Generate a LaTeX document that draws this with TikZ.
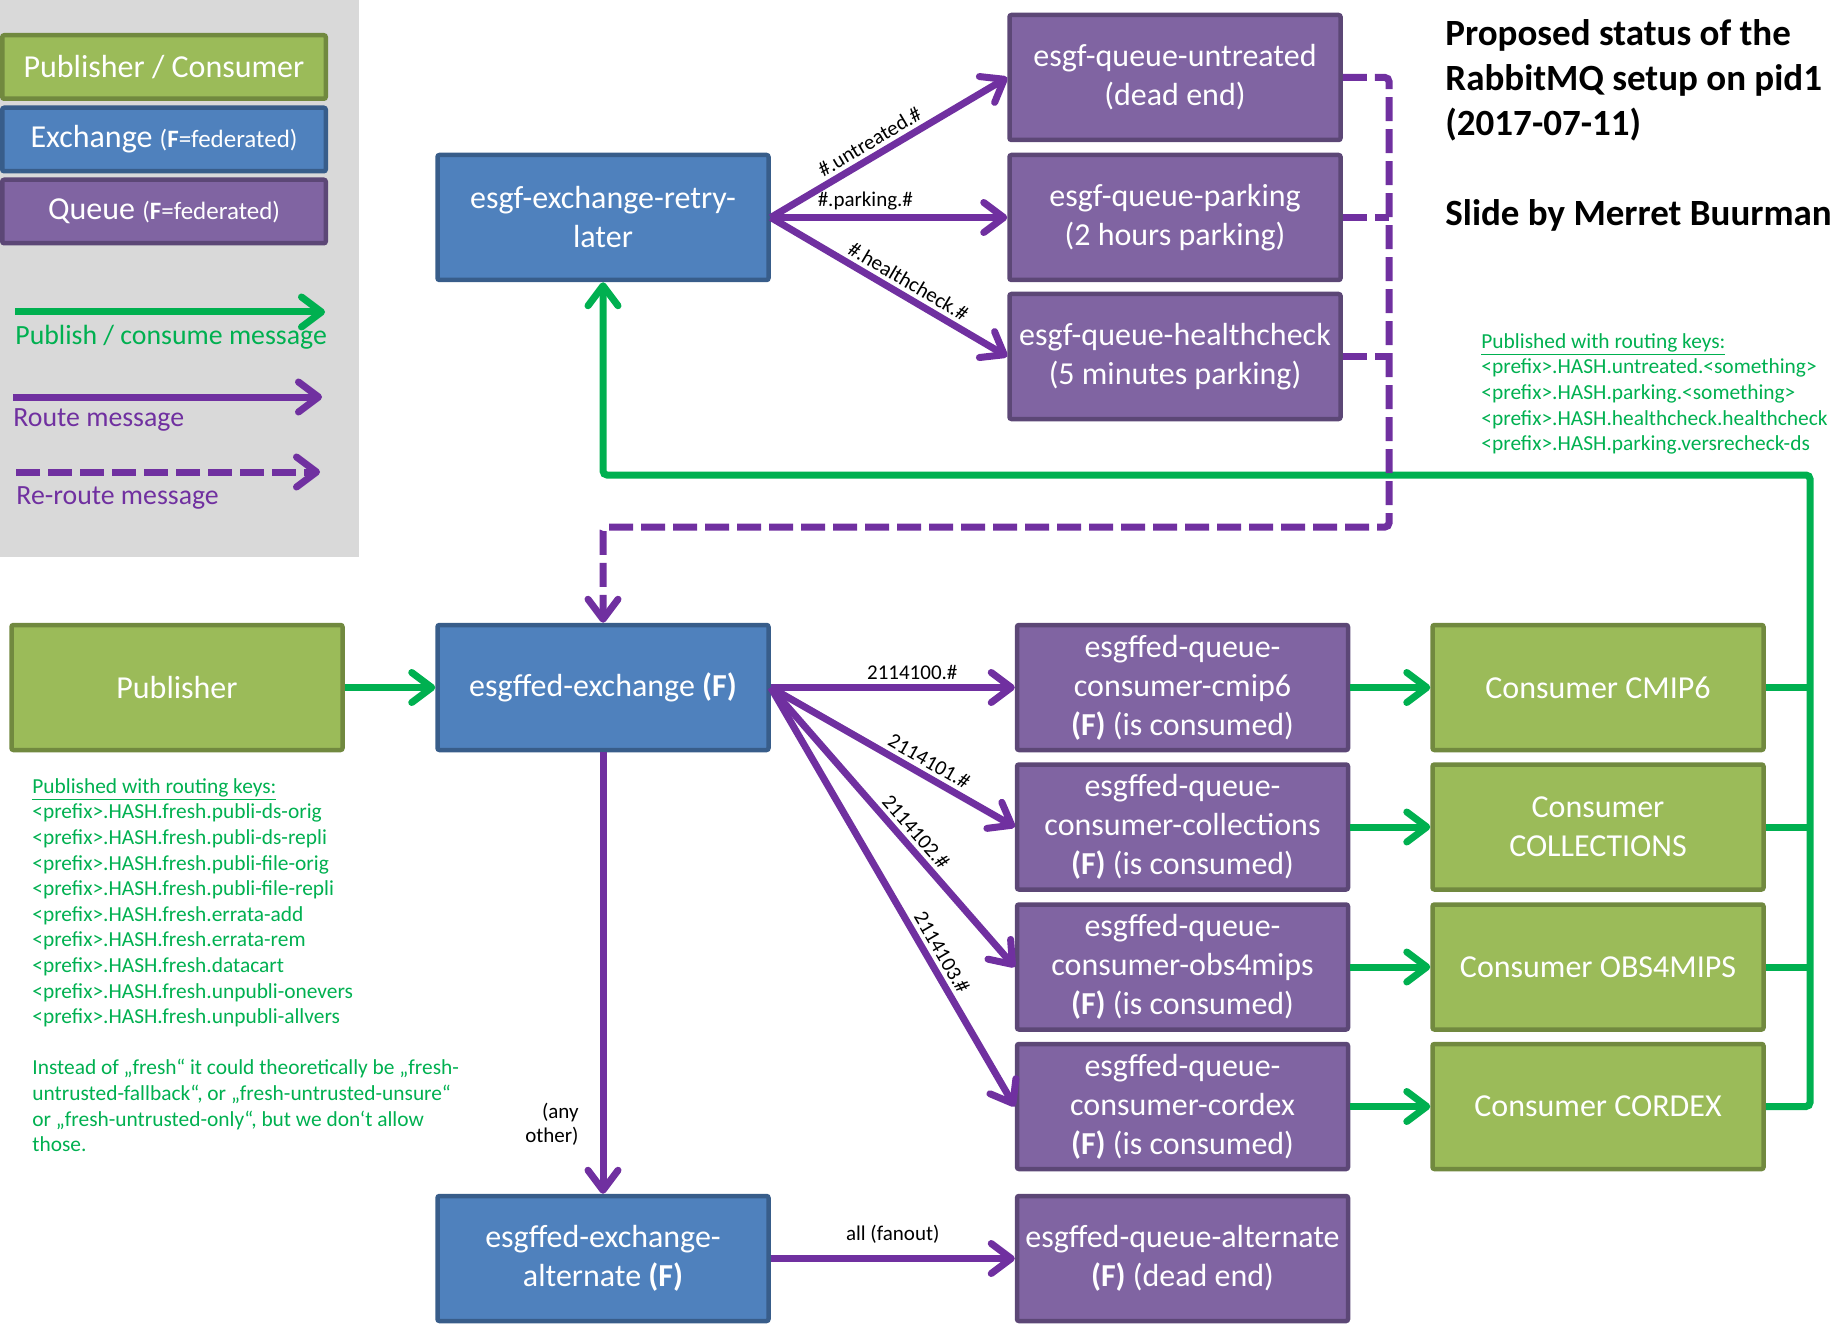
\documentclass[tikz,border=0pt]{standalone}
\usepackage{fontspec}
\setmainfont{Carlito}
\usetikzlibrary{arrows.meta}
\definecolor{pcfill}{HTML}{9BBB59}
\definecolor{pcline}{HTML}{71893F}
\definecolor{exfill}{HTML}{4F81BD}
\definecolor{exline}{HTML}{385D8A}
\definecolor{qfill}{HTML}{8064A2}
\definecolor{qline}{HTML}{5C4776}
\definecolor{pubgreen}{HTML}{00B050}
\definecolor{routepurple}{HTML}{7030A0}
\definecolor{legendgray}{HTML}{D9D9D9}
\tikzset{
  box/.style={draw, line width=2.25pt, rounded corners=1pt, minimum width=165.5pt,
    minimum height=62.5pt, align=center, text=white, inner sep=2pt,
    font=\fontsize{16}{19.5}\selectfont},
  exch/.style={box, fill=exfill, draw=exline},
  queue/.style={box, fill=qfill, draw=qline},
  pubcon/.style={box, fill=pcfill, draw=pcline},
  legbox/.style={minimum width=161.75pt, minimum height=31.75pt},
  barb/.tip={Straight Barb[length=10pt, width=15pt, line cap=round, line join=round]},
  pub/.style={draw=pubgreen, line width=3.5pt, -barb},
  route/.style={draw=routepurple, line width=3.5pt, -barb},
  reroute/.style={route, dash pattern=on 12pt off 4pt},
  keylabel/.style={text=black, font=\fontsize{10.5}{12}\selectfont, inner sep=2pt},
  notes/.style={text=pubgreen, align=left, anchor=north west, inner sep=0pt,
    font=\fontsize{10.7}{12.8}\selectfont}
}
\begin{document}
\begin{tikzpicture}[x=0.5pt,y=-0.5pt]
  \useasboundingbox (0,0) rectangle (1845,1326);

  \fill[legendgray] (0,0) rectangle (359,557);
  \node[pubcon, legbox] (legpc) at (164,67) {Publisher / Consumer};
  \node[exch, legbox] (legex) at (164,139.5)
    {Exchange {\fontsize{12.5}{14}\selectfont(\textbf{F}=federated)}};
  \node[queue, legbox] (legq) at (164,211.5)
    {Queue {\fontsize{12.5}{14}\selectfont(\textbf{F}=federated)}};
  \coordinate (lga) at (15,312);
  \coordinate (lgb) at (325,312);
  \coordinate (lra) at (13,397);
  \coordinate (lrb) at (322,397);
  \coordinate (lda) at (16,472);
  \coordinate (ldb) at (320,472);
  \draw[pub] (lga) -- (lgb);
  \draw[route] (lra) -- (lrb);
  \draw[reroute] (lda) -- (ldb);
  \node[anchor=west, inner sep=0pt, text=pubgreen, font=\fontsize{13.9}{16}\selectfont]
    (lgtext) at (15,337) {Publish / consume message};
  \node[anchor=west, inner sep=0pt, text=routepurple, font=\fontsize{13.9}{16}\selectfont]
    (lrtext) at (13,420) {Route message};
  \node[anchor=west, inner sep=0pt, text=routepurple, font=\fontsize{13.9}{16}\selectfont]
    (ldtext) at (16,498) {Re-route message};

  \node[anchor=north west, align=left, inner sep=0pt,
    font=\bfseries\fontsize{18.5}{22.5}\selectfont] (title) at (1445,19)
    {Proposed status of the\\RabbitMQ setup on pid1\\(2017-07-11)\\[22.5pt]Slide by Merret Buurman};

  \node[exch] (retry) at (603,217.5) {esgf-exchange-retry-\\later};
  \node[queue] (untreated) at (1175,77.5) {esgf-queue-untreated\\(dead end)};
  \node[queue] (parking) at (1175,217.5) {esgf-queue-parking\\(2 hours parking)};
  \node[queue] (healthcheck) at (1175,356.5) {esgf-queue-healthcheck\\(5 minutes parking)};

  \node[pubcon] (publisher) at (177,687.5) {Publisher};
  \node[exch] (exchange) at (603,687.5) {esgffed-exchange \textbf{(F)}};
  \node[queue] (qcmip) at (1182.5,687.5) {esgffed-queue-\\consumer-cmip6\\\textbf{(F)} (is consumed)};
  \node[queue] (qcoll) at (1182.5,827) {esgffed-queue-\\consumer-collections\\\textbf{(F)} (is consumed)};
  \node[queue] (qobs) at (1182.5,967) {esgffed-queue-\\consumer-obs4mips\\\textbf{(F)} (is consumed)};
  \node[queue] (qcordex) at (1182.5,1106.5) {esgffed-queue-\\consumer-cordex\\\textbf{(F)} (is consumed)};
  \node[pubcon] (ccmip) at (1598,687.5) {Consumer CMIP6};
  \node[pubcon] (ccoll) at (1598,827) {Consumer\\COLLECTIONS};
  \node[pubcon] (cobs) at (1598,967) {Consumer OBS4MIPS};
  \node[pubcon] (ccordex) at (1598,1106.5) {Consumer CORDEX};
  \node[exch] (altexchange) at (603,1258.5) {esgffed-exchange-\\alternate \textbf{(F)}};
  \node[queue] (altqueue) at (1182.5,1258.5) {esgffed-queue-alternate\\\textbf{(F)} (dead end)};

  \draw[route] (retry.east) -- node[keylabel, pos=.45, above, sloped] {\#.untreated.\#} (untreated.west);
  \draw[route] (retry.east) -- node[keylabel, pos=.4, above] {\#.parking.\#} (parking.west);
  \draw[route] (retry.east) -- node[keylabel, pos=.55, above, sloped] {\#.healthcheck.\#} (healthcheck.west);

  \draw[pub] (publisher) -- (exchange);
  \draw[route] (exchange.east) -- node[keylabel, pos=.58, above] {2114100.\#} (qcmip.west);
  \draw[route] (exchange.east) -- node[keylabel, pos=.62, above, sloped] {2114101.\#} (qcoll.west);
  \draw[route] (exchange.east) -- node[keylabel, pos=.55, above, sloped] {2114102.\#} (qobs.west);
  \draw[route] (exchange.east) -- node[keylabel, pos=.65, above, sloped] {2114103.\#} (qcordex.west);
  \draw[route] (exchange) -- (altexchange);
  \node[keylabel, anchor=east, align=right] (anyother) at (583,1124) {(any\\other)};
  \draw[route] (altexchange) -- node[keylabel, above=4pt] {all (fanout)} (altqueue);

  \draw[pub] (qcmip) -- (ccmip);
  \draw[pub] (qcoll) -- (ccoll);
  \draw[pub] (qobs) -- (cobs);
  \draw[pub] (qcordex) -- (ccordex);

  \coordinate (gcorner) at (1810,475);
  \draw[pub, rounded corners=2pt] (ccordex.east) -| (gcorner) -| (retry.south);
  \draw[pubgreen, line width=3.5pt] (ccmip.east) -- (ccmip.east -| gcorner);
  \draw[pubgreen, line width=3.5pt] (ccoll.east) -- (ccoll.east -| gcorner);
  \draw[pubgreen, line width=3.5pt] (cobs.east) -- (cobs.east -| gcorner);

  \coordinate (rcorner) at (1389,527);
  \draw[reroute, rounded corners=2pt] (untreated.east) -| (rcorner) -| (exchange.north);
  \draw[routepurple, line width=3.5pt, dash pattern=on 12pt off 4pt] (parking.east) -- (parking.east -| rcorner);
  \draw[routepurple, line width=3.5pt, dash pattern=on 12pt off 4pt] (healthcheck.east) -- (healthcheck.east -| rcorner);

  \node[notes] (freshkeys) at (32,778)
    {\underline{Published with routing keys:}\\
     <prefix>.HASH.fresh.publi-ds-orig\\
     <prefix>.HASH.fresh.publi-ds-repli\\
     <prefix>.HASH.fresh.publi-file-orig\\
     <prefix>.HASH.fresh.publi-file-repli\\
     <prefix>.HASH.fresh.errata-add\\
     <prefix>.HASH.fresh.errata-rem\\
     <prefix>.HASH.fresh.datacart\\
     <prefix>.HASH.fresh.unpubli-onevers\\
     <prefix>.HASH.fresh.unpubli-allvers\\[12.8pt]
     Instead of „fresh“ it could theoretically be „fresh-\\
     untrusted-fallback“, or „fresh-untrusted-unsure“\\
     or „fresh-untrusted-only“, but we don‘t allow\\
     those.};
  \node[notes] (retrykeys) at (1481,333)
    {\underline{Published with routing keys:}\\
     <prefix>.HASH.untreated.<something>\\
     <prefix>.HASH.parking.<something>\\
     <prefix>.HASH.healthcheck.healthcheck\\
     <prefix>.HASH.parking.versrecheck-ds};
\end{tikzpicture}
\end{document}
